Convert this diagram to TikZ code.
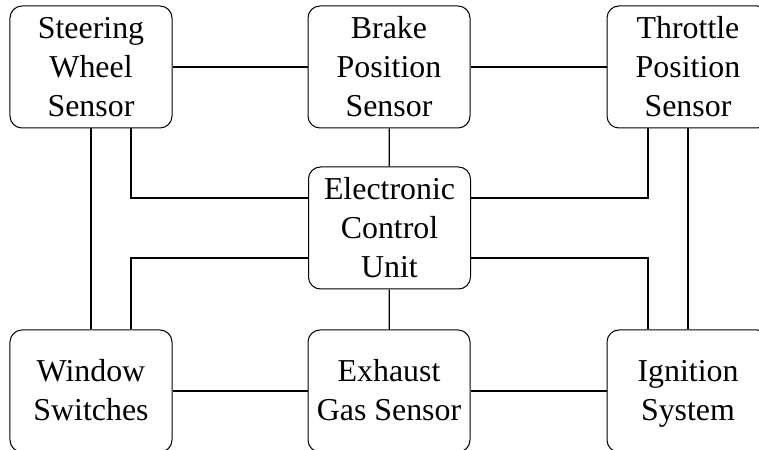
\documentclass[tikz,border=0pt]{standalone}
\usepackage{fontspec}
\setmainfont{Liberation Serif}
\newcommand\topstrut{\rule{0pt}{30bp}}
\newcommand\botstrut{\rule[-9.5bp]{0pt}{9.5bp}}
\begin{document}
\begin{tikzpicture}[x=1bp,y=-1bp,
  blk/.style={draw, line width=1bp, rounded corners=12bp, minimum width=162bp, minimum height=122bp,
    align=center, inner sep=0pt, font=\fontsize{32}{39}\selectfont},
  wire/.style={line width=1.2bp}]
\useasboundingbox (0,0) rectangle (759,450);
\node[blk] (sw) at (91,67) {\topstrut Steering\\Wheel\\Sensor\botstrut};
\node[blk] (bp) at (389,67) {\topstrut Brake\\Position\\Sensor\botstrut};
\node[blk] (tp) at (688,67) {\topstrut Throttle\\Position\\Sensor\botstrut};
\node[blk] (ecu) at (389.5,228) {\topstrut Electronic\\Control\\Unit\botstrut};
\node[blk] (ws) at (91,391) {\topstrut Window\\Switches\botstrut};
\node[blk] (eg) at (389,391) {\topstrut Exhaust\\Gas Sensor\botstrut};
\node[blk] (ig) at (688,391) {\topstrut Ignition\\System\botstrut};
\draw[wire] (sw) -- (bp);
\draw[wire] (bp) -- (tp);
\draw[wire] (bp) -- (ecu);
\draw[wire] (ecu) -- (eg);
\draw[wire] (ws) -- (eg);
\draw[wire] (eg) -- (ig);
\draw[wire] (sw) -- (ws);
\draw[wire] (tp) -- (ig);
\draw[wire] ([xshift=40bp]sw.south) |- ([yshift=30bp]ecu.west);
\draw[wire] ([xshift=40bp]ws.north) |- ([yshift=-30bp]ecu.west);
\draw[wire] ([xshift=-40bp]tp.south) |- ([yshift=30bp]ecu.east);
\draw[wire] ([xshift=-40bp]ig.north) |- ([yshift=-30bp]ecu.east);
\end{tikzpicture}
\end{document}
